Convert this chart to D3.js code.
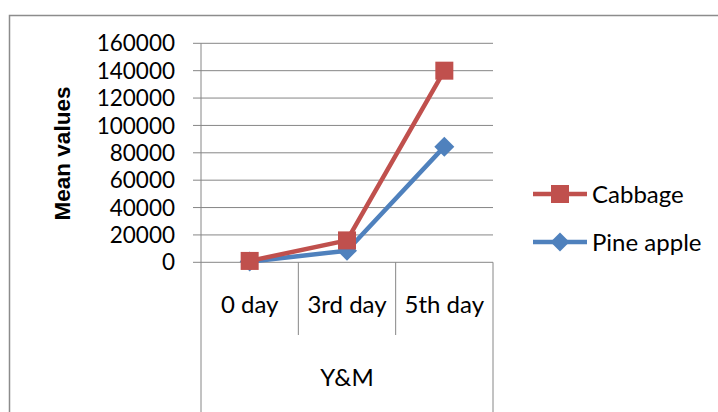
<!DOCTYPE html>
<html>
<head>
<meta charset="utf-8">
<script src="https://cdn.jsdelivr.net/npm/d3@7"></script>
<style>
  html, body { margin: 0; padding: 0; background: #fff; }
  svg { display: block; }
  text { fill: #000; }
</style>
</head>
<body>
<svg id="chart" width="718" height="412"></svg>
<script>
// Mean values over storage time
const categories = ["0 day", "3rd day", "5th day"];
const cabbage = [1000, 16000, 140000];
const pineApple = [500, 8500, 84500];
const yTicks = [0, 20000, 40000, 60000, 80000, 100000, 120000, 140000, 160000];
const groupLabel = "Y&M";
const yTitle = "Mean values";
const seriesNames = ["Cabbage", "Pine apple"];

const svg = d3.select("#chart");
const W = 718, H = 412;
const plot = { left: 201, right: 493, top: 43.3, bottom: 262.3 };
const red = "#C0504D", blue = "#4F81BD", grid = "#868686";
const labelFont = "Lato, 'Open Sans', sans-serif";

// chart area frame (runs off the right and bottom edges)
svg.append("rect")
  .attr("x", 9.5).attr("y", 15.5)
  .attr("width", W + 10).attr("height", H + 10)
  .attr("fill", "none").attr("stroke", "#8c8c8c").attr("stroke-width", 1.5);

const y = d3.scaleLinear().domain([0, 160000]).range([plot.bottom, plot.top]);
const x = d3.scaleBand().domain(categories).range([plot.left, plot.right]).padding(0);

// horizontal gridlines with tick stubs
svg.append("g").selectAll("line").data(yTicks).join("line")
  .attr("x1", plot.left - 8).attr("x2", plot.right)
  .attr("y1", d => y(d)).attr("y2", d => y(d))
  .attr("stroke", grid).attr("stroke-width", 1);

// value axis line
svg.append("line")
  .attr("x1", plot.left).attr("x2", plot.left)
  .attr("y1", plot.top).attr("y2", H)
  .attr("stroke", grid).attr("stroke-width", 1);

// value tick labels
svg.append("g").selectAll("text").data(yTicks).join("text")
  .attr("x", 175).attr("y", d => y(d))
  .attr("dy", "0.36em")
  .attr("text-anchor", "end")
  .style("font-family", labelFont).style("font-size", "22.5px")
  .text(d => d);

// category dividers
const bounds = categories.map(c => x(c)).concat([plot.right]);
svg.append("g").selectAll("line").data(bounds.slice(1)).join("line")
  .attr("x1", d => d).attr("x2", d => d)
  .attr("y1", plot.bottom)
  .attr("y2", (d, i) => i === bounds.length - 2 ? H : 335)
  .attr("stroke", grid).attr("stroke-width", 1);

// category labels
svg.append("g").selectAll("text").data(categories).join("text")
  .attr("x", d => x(d) + x.bandwidth() / 2).attr("y", 313)
  .attr("text-anchor", "middle")
  .style("font-family", labelFont).style("font-size", "24px")
  .text(d => d);

svg.append("text")
  .attr("x", (plot.left + plot.right) / 2).attr("y", 386)
  .attr("text-anchor", "middle")
  .style("font-family", labelFont).style("font-size", "24px")
  .text(groupLabel);

// value axis title
svg.append("text")
  .attr("transform", `translate(70,${(85 + 222) / 2}) rotate(-90)`)
  .attr("text-anchor", "middle")
  .style("font-family", "'Liberation Sans', Arial, sans-serif")
  .style("font-size", "22.5px").style("font-weight", "bold")
  .text(yTitle);

const cx = c => x(c) + x.bandwidth() / 2;
const line = d3.line().x((d, i) => cx(categories[i])).y(d => y(d));

function diamond(g, px, py, r, color) {
  g.append("path")
    .attr("d", `M${px},${py - r}L${px + r},${py}L${px},${py + r}L${px - r},${py}Z`)
    .attr("fill", color);
}
function square(g, px, py, s, color) {
  g.append("rect")
    .attr("x", px - s / 2).attr("y", py - s / 2)
    .attr("width", s).attr("height", s)
    .attr("fill", color);
}

// Pine apple series
const gP = svg.append("g");
gP.append("path").datum(pineApple).attr("d", line)
  .attr("fill", "none").attr("stroke", blue).attr("stroke-width", 4.5)
  .attr("stroke-linejoin", "round");
pineApple.forEach((v, i) => diamond(gP, cx(categories[i]), y(v), 10, blue));

// Cabbage series
const gC = svg.append("g");
gC.append("path").datum(cabbage).attr("d", line)
  .attr("fill", "none").attr("stroke", red).attr("stroke-width", 4.5)
  .attr("stroke-linejoin", "round");
cabbage.forEach((v, i) => square(gC, cx(categories[i]), y(v), 18, red));

// legend
const legend = svg.append("g");
const legY = [194, 242];
const colors = [red, blue];
seriesNames.forEach((name, i) => {
  legend.append("line")
    .attr("x1", 533).attr("x2", 587)
    .attr("y1", legY[i]).attr("y2", legY[i])
    .attr("stroke", colors[i]).attr("stroke-width", 4.5);
  if (i === 0) square(legend, 560, legY[i], 18, red);
  else diamond(legend, 560, legY[i], 9.5, blue);
  legend.append("text")
    .attr("x", 592).attr("y", legY[i] + 8.5)
    .style("font-family", labelFont).style("font-size", "24px")
    .text(name);
});
</script>
</body>
</html>
